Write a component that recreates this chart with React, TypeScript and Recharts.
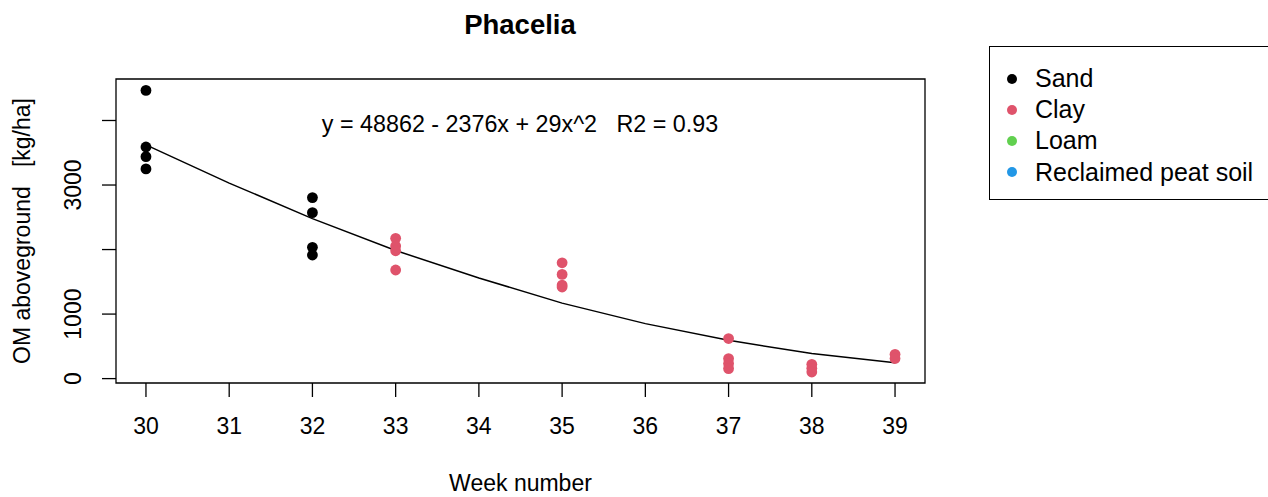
import React from 'react';
import { ComposedChart, XAxis, YAxis, Scatter, Line, ReferenceArea, Legend } from 'recharts';

const WEEKS = [30, 31, 32, 33, 34, 35, 36, 37, 38, 39];
const Y_TICKS = [0, 1000, 2000, 3000, 4000];
const Y_LABELS = [0, 1000, 3000];
const X_DOMAIN = [29.64, 39.36];
const Y_DOMAIN = [-68, 4643];

const SOIL_NAMES = ['Sand', 'Clay', 'Loam', 'Reclaimed peat soil'];
const SOIL_COLORS = ['#000000', '#DF536B', '#61D04F', '#2297E6'];

const SAND = [
  { week: 30, om: 4466 }, { week: 30, om: 3590 }, { week: 30, om: 3440 }, { week: 30, om: 3250 },
  { week: 32, om: 2805 }, { week: 32, om: 2572 }, { week: 32, om: 2034 }, { week: 32, om: 1915 },
];
const CLAY = [
  { week: 33, om: 2174 }, { week: 33, om: 2054 }, { week: 33, om: 1981 }, { week: 33, om: 1683 },
  { week: 35, om: 1795 }, { week: 35, om: 1615 }, { week: 35, om: 1449 }, { week: 35, om: 1420 },
  { week: 37, om: 621 }, { week: 37, om: 311 }, { week: 37, om: 233 }, { week: 37, om: 155 },
  { week: 38, om: 222 }, { week: 38, om: 160 }, { week: 38, om: 102 },
  { week: 39, om: 377 }, { week: 39, om: 311 },
];
const LOAM: { week: number; om: number }[] = [];
const PEAT: { week: number; om: number }[] = [];

// fitted curve, per week
const FIT_OM = [3622, 3030, 2480, 1985, 1560, 1170, 852, 593, 388, 244];
const FIT = WEEKS.map((w, i) => ({ week: w, om: FIT_OM[i] }));

const SERIES = [SAND, CLAY, LOAM, PEAT];

const FONT = '"Liberation Sans", Arial, sans-serif';

const Dot = (props: any) => <circle cx={props.cx} cy={props.cy} r={5.4} fill={props.fill} />;

const YTick = (props: any) => {
  const { y, payload } = props;
  if (!Y_LABELS.includes(payload.value)) return null;
  const x = 73.5;
  return (
    <text x={x} y={y} transform={`rotate(-90, ${x}, ${y})`} textAnchor="middle" dominantBaseline="central"
      fontSize={23} fontFamily={FONT} fill="#000">
      {payload.value}
    </text>
  );
};

// legend box runs off the right edge of the figure, so no right border
const LegendBox = () => (
  <div style={{
    borderTop: '1.3px solid #000', borderLeft: '1.3px solid #000', borderBottom: '1.3px solid #000',
    width: 300, height: 154, boxSizing: 'border-box', paddingTop: 16, fontFamily: FONT,
  }}>
    {SOIL_NAMES.map((n, i) => (
      <div key={n} style={{ display: 'flex', alignItems: 'center', height: 31.2, fontSize: 25, color: '#000' }}>
        <span style={{ width: 10, height: 10, borderRadius: '50%', background: SOIL_COLORS[i], marginLeft: 17, marginRight: 18 }} />
        <span>{n}</span>
      </div>
    ))}
  </div>
);

export default function App() {
  return (
    <div style={{ position: 'absolute', left: 0, top: 0, width: 1268, height: 497, overflow: 'hidden', background: '#fff' }}>
      <ComposedChart width={1268} height={497} margin={{ top: 79, right: 343, bottom: 0, left: 0 }}>
        <XAxis type="number" dataKey="week" domain={X_DOMAIN} ticks={WEEKS} allowDataOverflow
          axisLine={false} tickLine={{ stroke: '#000', strokeWidth: 1.3 }} tickSize={14} tickMargin={21} height={114}
          tick={{ fontSize: 23, fill: '#000', fontFamily: FONT }}
          label={{ value: 'Week number', position: 'insideBottom', offset: 6, fontSize: 23, fill: '#000', fontFamily: FONT }} />
        <YAxis type="number" dataKey="om" domain={Y_DOMAIN} ticks={Y_TICKS} allowDataOverflow width={116}
          axisLine={false} tickLine={{ stroke: '#000', strokeWidth: 1.3 }} tickSize={14} tick={<YTick />} />
        <ReferenceArea x1={X_DOMAIN[0]} x2={X_DOMAIN[1]} y1={Y_DOMAIN[0]} y2={Y_DOMAIN[1]}
          fill="none" stroke="#000" strokeWidth={1.3} fillOpacity={0} />
        {SERIES.map((d, i) => (
          <Scatter key={SOIL_NAMES[i]} name={SOIL_NAMES[i]} data={d} dataKey="om" fill={SOIL_COLORS[i]}
            shape={<Dot />} isAnimationActive={false} />
        ))}
        <Line data={FIT} dataKey="om" type="linear" stroke="#000" strokeWidth={1.5} dot={false}
          isAnimationActive={false} legendType="none" />
        <Legend layout="vertical" align="center" verticalAlign="middle" content={<LegendBox />}
          wrapperStyle={{ left: 989, top: 46, width: 300 }} />
        <text x={520} y={24} textAnchor="middle" dominantBaseline="central" fontSize={27.5} fontWeight="bold"
          fontFamily={FONT} fill="#000">Phacelia</text>
        <text x={520} y={124} textAnchor="middle" dominantBaseline="central" fontSize={23.3} fontFamily={FONT}
          fill="#000" style={{ whiteSpace: 'pre' }}>{'y = 48862 - 2376x + 29x^2   R2 = 0.93'}</text>
        <text x={22} y={231} transform="rotate(-90, 22, 231)" textAnchor="middle" dominantBaseline="central"
          fontSize={23} fontFamily={FONT} fill="#000" style={{ whiteSpace: 'pre' }}>{'OM aboveground   [kg/ha]'}</text>
      </ComposedChart>
    </div>
  );
}
